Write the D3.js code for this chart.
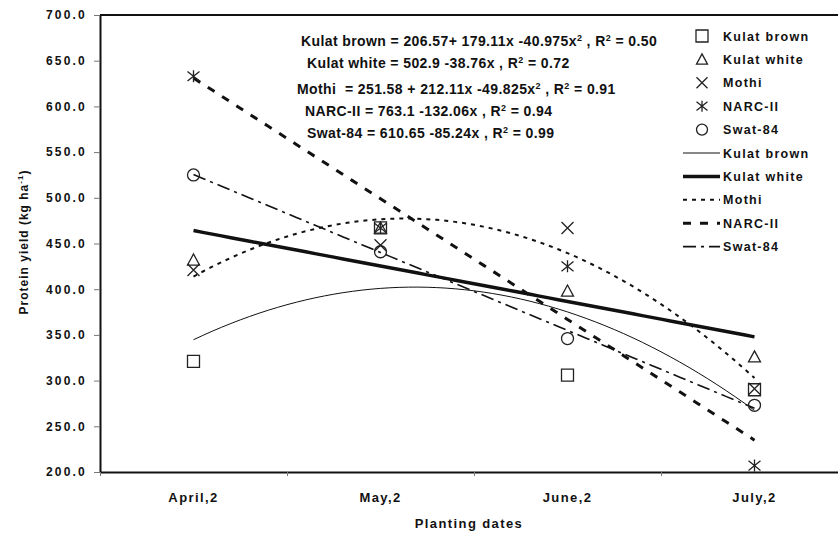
<!DOCTYPE html>
<html>

<head>
    <title>Protein yield vs planting dates</title>
    <script src="https://d3js.org/d3.v7.min.js"></script>
    <style>
        body {
            margin: 0;
            background: #fff;
            font-family: "Liberation Sans", Arial, sans-serif;
            font-weight: bold;
        }

        text {
            fill: #111;
            white-space: pre;
        }

        .tick line {
            stroke: #777;
        }
    </style>
</head>

<body>
    <div id="chart"></div>

    <script>
        // values
        const categories = ["April,2", "May,2", "June,2", "July,2"];
        const yTicks = [200, 250, 300, 350, 400, 450, 500, 550, 600, 650, 700];
        const seriesNames = ["Kulat brown", "Kulat white", "Mothi", "NARC-II", "Swat-84"];
        const kulatBrown = [321, 467, 306, 290];
        const kulatWhite = [432, 467, 398, 326];
        const mothi = [421, 448, 467, 291];
        const narc = [633, 467, 425, 207];
        const swat = [525, 441, 346, 273];

        // trendline coefficients as printed on the chart (c0 + c1 x + c2 x^2)
        const kulatBrownFit = [206.57, 179.11, -40.975];
        const kulatWhiteFit = [502.9, -38.76];
        const mothiFit = [251.58, 212.11, -49.825];
        const narcFit = [763.1, -132.06];
        const swatFit = [610.65, -85.24];

        const equations = [
            ["Kulat brown = 206.57+ 179.11x -40.975x", "2", " , R", "2", " = 0.50"],
            ["Kulat white = 502.9 -38.76x , R", "2", " = 0.72"],
            ["Mothi  = 251.58 + 212.11x -49.825x", "2", " , R", "2", " = 0.91"],
            ["NARC-II = 763.1 -132.06x , R", "2", " = 0.94"],
            ["Swat-84 = 610.65 -85.24x , R", "2", " = 0.99"]
        ];

        const series = [
            { name: seriesNames[0], values: kulatBrown, fit: kulatBrownFit, shape: "square", width: 1, dash: null },
            { name: seriesNames[1], values: kulatWhite, fit: kulatWhiteFit, shape: "triangle", width: 3.5, dash: null },
            { name: seriesNames[2], values: mothi, fit: mothiFit, shape: "times", width: 2, dash: "4,5" },
            { name: seriesNames[3], values: narc, fit: narcFit, shape: "star", width: 3, dash: "8,9" },
            { name: seriesNames[4], values: swat, fit: swatFit, shape: "circle", width: 1.6, dash: "13,5,3,5" }
        ];

        const width = 838, height = 535;
        const plot = { left: 100, top: 15, right: 848, bottom: 472 };

        const svg = d3.select("#chart").append("svg")
            .attr("width", width)
            .attr("height", height);

        const x = d3.scaleLinear().domain([0.5, 4.5]).range([plot.left, plot.right]);
        const y = d3.scaleLinear().domain([200, 700]).range([plot.bottom, plot.top]);

        // marker shapes centred on 0,0
        function marker(shape, s) {
            const h = s / 2;
            if (shape === "square") return `M${-h},${-h}H${h}V${h}H${-h}Z`;
            if (shape === "triangle") return `M0,${-h}L${h},${h * 0.85}H${-h}Z`;
            if (shape === "times") return `M${-h},${-h}L${h},${h}M${h},${-h}L${-h},${h}`;
            if (shape === "star") return `M${-h},${-h * 0.8}L${h},${h * 0.8}M${h},${-h * 0.8}L${-h},${h * 0.8}M0,${-h}V${h}`;
            return d3.arc()({ innerRadius: 0, outerRadius: h, startAngle: 0, endAngle: 2 * Math.PI });
        }

        // top border of the plot area
        svg.append("line")
            .attr("x1", plot.left).attr("x2", width)
            .attr("y1", y(700)).attr("y2", y(700))
            .attr("stroke", "#111").attr("stroke-width", 2);

        // y axis
        const yAxis = svg.append("g")
            .attr("transform", `translate(${plot.left},0)`)
            .call(d3.axisLeft(y).tickValues(yTicks).tickFormat(d3.format(".1f")).tickSize(6).tickSizeOuter(0));
        yAxis.select(".domain").attr("stroke", "#111").attr("stroke-width", 2);
        yAxis.selectAll("text")
            .attr("x", -13)
            .style("font-size", "12px")
            .style("letter-spacing", "2.2px")
            .style("font-family", "'Liberation Sans', Arial, sans-serif");

        // x axis: ticks between categories
        const xAxis = svg.append("g")
            .attr("transform", `translate(0,${plot.bottom})`)
            .call(d3.axisBottom(x).tickValues([0.5, 1.5, 2.5, 3.5]).tickFormat("").tickSize(4).tickSizeOuter(0));
        xAxis.select(".domain").attr("stroke", "#111").attr("stroke-width", 2);

        svg.append("g").selectAll("text")
            .data(categories).join("text")
            .attr("x", (d, i) => x(i + 1))
            .attr("y", 502)
            .attr("text-anchor", "middle")
            .style("font-size", "13px")
            .style("letter-spacing", "1.4px")
            .text(d => d);

        // axis titles
        svg.append("text")
            .attr("x", 469).attr("y", 528)
            .attr("text-anchor", "middle")
            .style("font-size", "13px")
            .style("letter-spacing", "1.4px")
            .text("Planting dates");

        const yTitle = svg.append("text")
            .attr("transform", "translate(28,242) rotate(-90)")
            .attr("text-anchor", "middle")
            .style("font-size", "12px")
            .style("letter-spacing", "1px");
        yTitle.append("tspan").text("Protein yield (kg ha");
        yTitle.append("tspan").attr("dy", -5).style("font-size", "8px").text("-1");
        yTitle.append("tspan").attr("dy", 5).text(")");

        // trendlines
        const fitX = d3.range(1, 4.001, 0.05);
        const line = d3.line().x(d => x(d[0])).y(d => y(d[1]));
        const evalFit = (c, t) => c.reduce((s, k, i) => s + k * Math.pow(t, i), 0);

        svg.append("g").selectAll("path")
            .data(series).join("path")
            .attr("d", s => line(fitX.map(t => [t, evalFit(s.fit, t)])))
            .attr("fill", "none")
            .attr("stroke", "#111")
            .attr("stroke-width", s => s.width)
            .attr("stroke-dasharray", s => s.dash);

        // data markers
        series.forEach(s => {
            svg.append("g").selectAll("path")
                .data(s.values).join("path")
                .attr("transform", (d, i) => `translate(${x(i + 1)},${y(d)})`)
                .attr("d", marker(s.shape, 12))
                .attr("fill", "none")
                .attr("stroke", "#222")
                .attr("stroke-width", 1.3);
        });

        // equations
        const eqX = [301, 307, 297, 305, 307];
        const eqY = [46, 68, 94, 116, 138];
        equations.forEach((parts, i) => {
            const t = svg.append("text")
                .attr("x", eqX[i]).attr("y", eqY[i])
                .style("font-size", "14px")
                .style("letter-spacing", "0.4px");
            parts.forEach(p => {
                if (p === "2") {
                    t.append("tspan").attr("dy", -5).style("font-size", "9px").text(p);
                } else {
                    const sp = t.append("tspan").text(p);
                    if (t.selectAll("tspan").size() > 1) sp.attr("dy", 5);
                }
            });
        });

        // legend
        const legend = svg.append("g");
        const rowY = i => 36 + i * 23.4;
        series.forEach((s, i) => {
            legend.append("path")
                .attr("transform", `translate(702,${rowY(i)})`)
                .attr("d", marker(s.shape, s.shape === "square" ? 12 : 11))
                .attr("fill", "none")
                .attr("stroke", "#222")
                .attr("stroke-width", 1.3);
            legend.append("text")
                .attr("x", 723).attr("y", rowY(i) + 4.5)
                .style("font-size", "12.5px")
                .style("letter-spacing", "1.3px")
                .text(s.name);
        });
        series.forEach((s, i) => {
            const ly = rowY(i + 5);
            legend.append("line")
                .attr("x1", 683).attr("x2", 720)
                .attr("y1", ly).attr("y2", ly)
                .attr("stroke", "#111")
                .attr("stroke-width", s.width)
                .attr("stroke-dasharray", s.dash);
            legend.append("text")
                .attr("x", 723).attr("y", ly + 4.5)
                .style("font-size", "12.5px")
                .style("letter-spacing", "1.3px")
                .text(s.name);
        });
    </script>
</body>

</html>
